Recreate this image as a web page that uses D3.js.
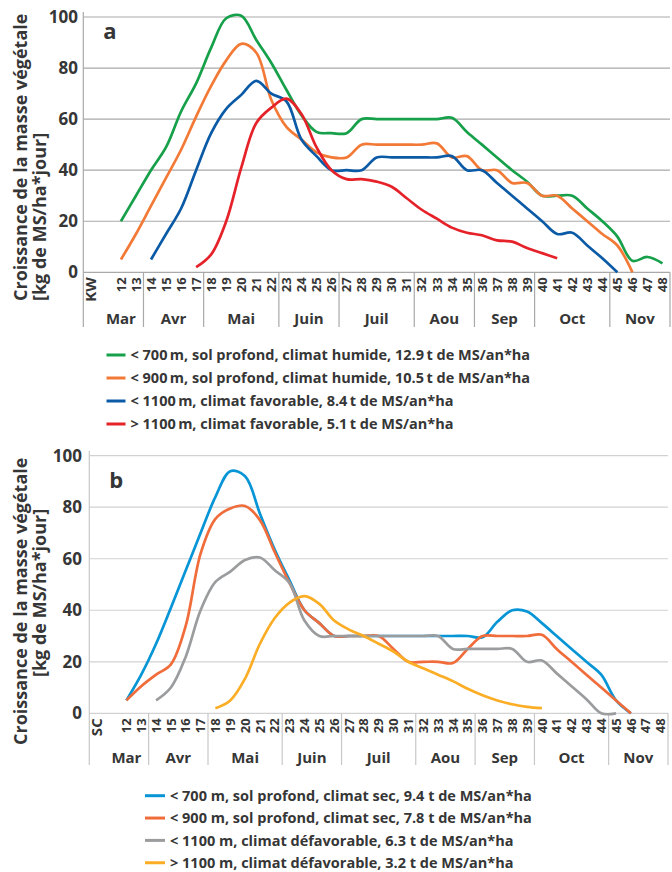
<!DOCTYPE html>
<html>
<head>
<meta charset="utf-8">
<script src="https://cdn.jsdelivr.net/npm/d3@7"></script>
<style>
body { margin: 0; background: #fff; }
svg text { font-family: "Open Sans", sans-serif; font-weight: 700; fill: #363636; }
</style>
</head>
<body>
<div id="chart"></div>
<script>
// categories
var weeks = [12,13,14,15,16,17,18,19,20,21,22,23,24,25,26,27,28,29,30,
             31,32,33,34,35,36,37,38,39,40,41,42,43,44,45,46,47,48];
var months = ["Mar", "Avr", "Mai", "Juin", "Juil", "Aou", "Sep", "Oct", "Nov"];
var monthLastWeek = [13, 17, 22, 26, 31, 35, 39, 44, 48];
var yTicks = [0, 20, 40, 60, 80, 100];

// panel a, values for weeks 12..48
var greenA  = [20,30,40,49,63,74,88,99.5,100.5,91,82,71.5,61.5,55,54.5,54.5,60,60,60,60,60,60,60.5,55,50,45,40,35.5,30,30,30,25,20,14,4.5,6,3.5];
var orangeA = [5,15,26,37,48,61,73,83,89.5,86,67.5,57,52,47,45,45,50,50,50,50,50,50.5,45,45.5,40,40,35,35,30,30,25,20,15,10.5,0,null,null];
var blueA   = [null,null,5,15,25,40,54.5,64,69.5,75,70,67,52,45.5,40,40,40,45,45,45,45,45,45.5,40,40,35,30,25,20,15,15.5,10.5,5.5,0,null,null,null];
var redA    = [null,null,null,null,null,2,7,20,41,58.5,64.5,68,62,49,40,36.5,36.5,35.5,33.5,29,24.5,21,17.5,15.5,14.5,12.5,12,9.5,7.5,5.5,null,null,null,null,null,null,null];
var namesA = [
  "< 700\u2009m, sol profond, climat humide, 12.9\u2009t de MS/an*ha",
  "< 900\u2009m, sol profond, climat humide, 10.5\u2009t de MS/an*ha",
  "< 1100\u2009m, climat favorable, 8.4\u2009t de MS/an*ha",
  "> 1100\u2009m, climat favorable, 5.1\u2009t de MS/an*ha"
];

// panel b, values for weeks 12..48
var blueB   = [5,15,27,41,55.5,70,84,94,92,77.5,63.5,51.5,40,35,30,30,30,30,30,30,30,30,30,30,29.5,35.5,40,39.5,35,30,25,20,15,5,0,null,null];
var orangeB = [5,10.5,15,19,34,62,75.5,79.5,80.5,75,62.5,50.5,40,35,30,30,30,30,25,20,20,20,19.5,25,30,30,30,30,30.5,25,20,15,10,5,0,null,null];
var grayB   = [null,null,5,10,22,40,51,55,59.5,60.5,55.5,50.5,36,30,30,30,30,30,30,30,30,30,25,25,25,25,25,20,20.5,15.5,10.5,5.5,0,0,null,null,null];
var yellowB = [null,null,null,null,null,null,2,5,13.5,27,37,43,45.5,42.5,36,32.5,30,27,24,20,17.5,15,12.5,9.5,7,5,3.5,2.5,2,null,null,null,null,null,null,null,null];
var namesB = [
  "< 700 m, sol profond, climat sec, 9.4 t de MS/an*ha",
  "< 900 m, sol profond, climat sec, 7.8 t de MS/an*ha",
  "< 1100 m, climat défavorable, 6.3 t de MS/an*ha",
  "> 1100 m, climat défavorable, 3.2 t de MS/an*ha"
];

var yTitle1 = "Croissance de la masse végétale";
var yTitle2 = "[kg de MS/ha*jour]";

var svg = d3.select("#chart").append("svg")
    .attr("width", 672)
    .attr("height", 872);

function drawPanel(p) {
    var slots = [p.lead, ""].concat(weeks.map(String));
    var x = d3.scaleBand()
        .domain(slots)
        .range([p.left, p.right])
        .padding(0);
    var cx = function(w) { return x(String(w)) + x.bandwidth() / 2; };
    var y = d3.scaleLinear()
        .domain([0, 100])
        .range([p.zero, p.top]);

    var g = svg.append("g");

    // gridlines
    g.selectAll("line.grid")
        .data(yTicks)
        .enter().append("line")
        .attr("x1", p.left).attr("x2", p.right)
        .attr("y1", d => y(d)).attr("y2", d => y(d))
        .style("stroke", p.gridColor)
        .style("stroke-width", 1.2);

    // left axis line and right edge below the plot
    g.append("line")
        .attr("x1", p.left).attr("x2", p.left)
        .attr("y1", p.top - 5).attr("y2", p.bottom)
        .style("stroke", p.sepColor).style("stroke-width", 1.2);
    g.append("line")
        .attr("x1", p.right).attr("x2", p.right)
        .attr("y1", p.zero).attr("y2", p.bottom)
        .style("stroke", p.sepColor).style("stroke-width", 1.2);

    // month separators
    g.selectAll("line.sep")
        .data(monthLastWeek.slice(0, -1))
        .enter().append("line")
        .attr("x1", d => x(String(d)) + x.bandwidth())
        .attr("x2", d => x(String(d)) + x.bandwidth())
        .attr("y1", p.zero).attr("y2", p.bottom)
        .style("stroke", p.sepColor).style("stroke-width", 1.2);

    // y tick labels
    g.selectAll("text.ytick")
        .data(yTicks)
        .enter().append("text")
        .attr("x", p.tickRight)
        .attr("y", d => y(d))
        .attr("dy", "0.36em")
        .attr("text-anchor", "end")
        .style("font-size", "17px")
        .text(d => d);

    // week labels, rotated
    var xAxis = d3.axisBottom(x)
        .tickSize(0)
        .tickFormat(d => d);
    var ax = g.append("g")
        .attr("transform", "translate(0," + p.zero + ")")
        .call(xAxis);
    ax.select(".domain").remove();
    ax.selectAll("text")
        .attr("transform", "rotate(-90)")
        .attr("x", -5)
        .attr("y", 0)
        .attr("dy", "0.36em")
        .attr("text-anchor", "end")
        .attr("fill", null)
        .style("font-family", null)
        .style("font-size", d => d === p.lead ? "15px" : "13px");

    // month labels
    g.selectAll("text.month")
        .data(months)
        .enter().append("text")
        .attr("x", function(d, i) {
            var a = i === 0 ? x("") : x(String(monthLastWeek[i - 1] + 1));
            var b = x(String(monthLastWeek[i])) + x.bandwidth();
            return (a + b) / 2;
        })
        .attr("y", p.monthY)
        .attr("text-anchor", "middle")
        .style("font-size", "15px")
        .text(d => d);

    // panel letter
    g.append("text")
        .attr("x", p.left + 20)
        .attr("y", p.letterY)
        .style("font-size", "22px")
        .text(p.letter);

    // y title
    g.append("text")
        .attr("transform", "translate(27," + p.title1Y + ") rotate(-90)")
        .style("font-size", "18px")
        .text(yTitle1);
    g.append("text")
        .attr("transform", "translate(46," + p.title2Y + ") rotate(-90)")
        .style("font-size", "18px")
        .text(yTitle2);

    // lines
    var line = d3.line()
        .defined(d => d != null)
        .x((d, i) => cx(weeks[i]))
        .y(d => y(d))
        .curve(d3.curveCatmullRom.alpha(0.5));

    g.selectAll("path.series")
        .data(p.series)
        .enter().append("path")
        .attr("d", d => line(d))
        .style("fill", "none")
        .style("stroke", (d, i) => p.colors[i])
        .style("stroke-width", 2.7)
        .style("stroke-linejoin", "round");

    // legend
    var leg = g.selectAll("g.legend")
        .data(p.names)
        .enter().append("g")
        .attr("transform", (d, i) => "translate(" + p.legX + "," + (p.legY + i * p.legStep) + ")");
    leg.append("line")
        .attr("x1", 0).attr("x2", p.swatch)
        .attr("y1", 0).attr("y2", 0)
        .style("stroke", (d, i) => p.colors[i])
        .style("stroke-width", 3);
    leg.append("text")
        .attr("x", p.swatch + 5)
        .attr("y", 0)
        .attr("dy", "0.36em")
        .style("font-size", "14.5px")
        .text(d => d);
}

drawPanel({
    left: 83.3, right: 670, top: 17, zero: 272.3, bottom: 327,
    lead: "KW", tickRight: 78, monthY: 324, letter: "a", letterY: 39,
    title1Y: 301, title2Y: 301,
    gridColor: "#a9a9a9", sepColor: "#a9a9a9",
    series: [greenA, orangeA, blueA, redA],
    colors: ["#16a04a", "#f27a36", "#0b5aa6", "#e52229"],
    names: namesA, legX: 106.5, legY: 355, legStep: 23, swatch: 19
});

drawPanel({
    left: 89.3, right: 668, top: 455.7, zero: 713.3, bottom: 765,
    lead: "SC", tickRight: 82, monthY: 763, letter: "b", letterY: 487.5,
    title1Y: 745, title2Y: 677,
    gridColor: "#d2d2d2", sepColor: "#c8c8c8",
    series: [blueB, orangeB, grayB, yellowB],
    colors: ["#0795d6", "#f06c3a", "#9b9c9e", "#fbad26"],
    names: namesB, legX: 145, legY: 795.7, legStep: 22.35, swatch: 20
});
</script>
</body>
</html>
